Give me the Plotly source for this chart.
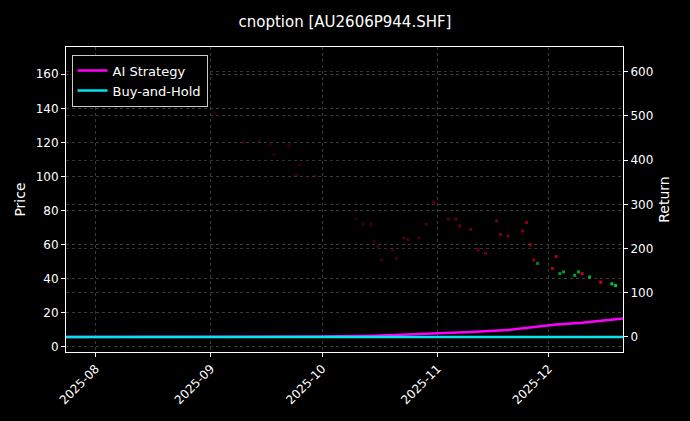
import plotly.graph_objects as go
from plotly.subplots import make_subplots

# price bars (close values), colour by direction
bar_dates = ['2025-08-01', '2025-09-02', '2025-09-10', '2025-09-14', '2025-09-17', '2025-09-18',
             '2025-09-22', '2025-09-24', '2025-09-25', '2025-09-29', '2025-10-10', '2025-10-12',
             '2025-10-14', '2025-10-15', '2025-10-16', '2025-10-17', '2025-10-20', '2025-10-21',
             '2025-10-23', '2025-10-24', '2025-10-27', '2025-10-29', '2025-10-31', '2025-11-04',
             '2025-11-06', '2025-11-07', '2025-11-10', '2025-11-12', '2025-11-14', '2025-11-17',
             '2025-11-18', '2025-11-20', '2025-11-24', '2025-11-25', '2025-11-26', '2025-11-27',
             '2025-11-28', '2025-12-02', '2025-12-03', '2025-12-04', '2025-12-05', '2025-12-08',
             '2025-12-09', '2025-12-10', '2025-12-12', '2025-12-15', '2025-12-18', '2025-12-19']
bar_close = [176, 137, 120, 121, 119, 113, 118, 101, 107, 100, 75, 72,
             72, 62, 59, 51, 57, 52, 64, 63, 64, 72, 85, 75,
             75, 71, 69, 57, 55, 74, 66, 65, 68, 73, 60, 51,
             49, 46, 53, 43, 44, 42, 44, 43, 41, 38, 37, 36]
bar_up = [0, 0, 0, 0, 0, 0, 0, 0, 0, 0, 0, 0,
          0, 0, 0, 0, 0, 0, 0, 0, 0, 0, 0, 0,
          0, 0, 0, 0, 0, 0, 0, 0, 0, 0, 0, 0,
          1, 0, 0, 1, 1, 1, 1, 0, 1, 0, 1, 1]

ret_dates = ['2025-07-24', '2025-08-15', '2025-09-01', '2025-09-15', '2025-10-01', '2025-10-15',
             '2025-10-25', '2025-11-01', '2025-11-10', '2025-11-20', '2025-11-28', '2025-12-03',
             '2025-12-10', '2025-12-16', '2025-12-21']
ai_return = [0, 0, 0, 0, 1, 3, 6, 9, 11, 16, 23, 28, 32, 37, 42]
bh_return = [0, 0, 0, 0, 0, 0, 0, 0, 0, 0, 0, 0, 0, 0, 0]

fig = make_subplots(specs=[[{'secondary_y': True}]])

colors = []
for i, u in enumerate(bar_up):
    a = 0.2 + 0.8 * (i / (len(bar_up) - 1)) ** 2
    colors.append(f'rgba(0,200,60,{a:.2f})' if u else f'rgba(230,0,30,{a:.2f})')

fig.add_trace(go.Scatter(x=bar_dates, y=bar_close, mode='markers', showlegend=False,
                         marker=dict(symbol='square', size=3, color=colors)), secondary_y=False)
fig.add_trace(go.Scatter(x=ret_dates, y=ai_return, name='AI Strategy', mode='lines',
                         line=dict(color='#ff00ff', width=2.5)), secondary_y=True)
fig.add_trace(go.Scatter(x=ret_dates, y=bh_return, name='Buy-and-Hold', mode='lines',
                         line=dict(color='#00e5ee', width=2.5)), secondary_y=True)

axis_style = dict(showline=True, linecolor='white', ticks='outside', ticklen=4,
                  tickcolor='white', color='white', zeroline=False, automargin=False)
fig.update_xaxes(range=['2025-07-24', '2025-12-21'], tickformat='%Y-%m', dtick='M1',
                 tickangle=-45, showgrid=True, gridcolor='#3a3a3a', griddash='dot',
                 gridwidth=0.6, mirror=True, domain=[0, 1], **axis_style)
fig.update_yaxes(title_text='Price', title_standoff=6, range=[-3, 176], dtick=20,
                 showgrid=True, gridcolor='#3a3a3a', griddash='dot', gridwidth=0.6,
                 secondary_y=False, **axis_style)
fig.update_yaxes(title_text='Return', title_standoff=6, range=[-34, 656], dtick=100,
                 showgrid=True, gridcolor='#333', griddash='dot', gridwidth=0.6,
                 secondary_y=True, **axis_style)

fig.update_layout(
    width=690, height=421,
    paper_bgcolor='black', plot_bgcolor='black',
    font=dict(family='DejaVu Sans', size=12, color='white'),
    title=dict(text='cnoption [AU2606P944.SHF]', x=0.5, xanchor='center', y=0.96,
               font=dict(size=15)),
    margin=dict(l=66, r=67, t=47, b=69),
    legend=dict(x=0.01, y=0.975, xanchor='left', yanchor='top', bgcolor='black',
                bordercolor='#ccc', borderwidth=1, font=dict(size=13)),
)

fig.write_html('out.html', config={'displayModeBar': False},
               post_script="document.body.style.margin='0';document.body.style.background='black';")
